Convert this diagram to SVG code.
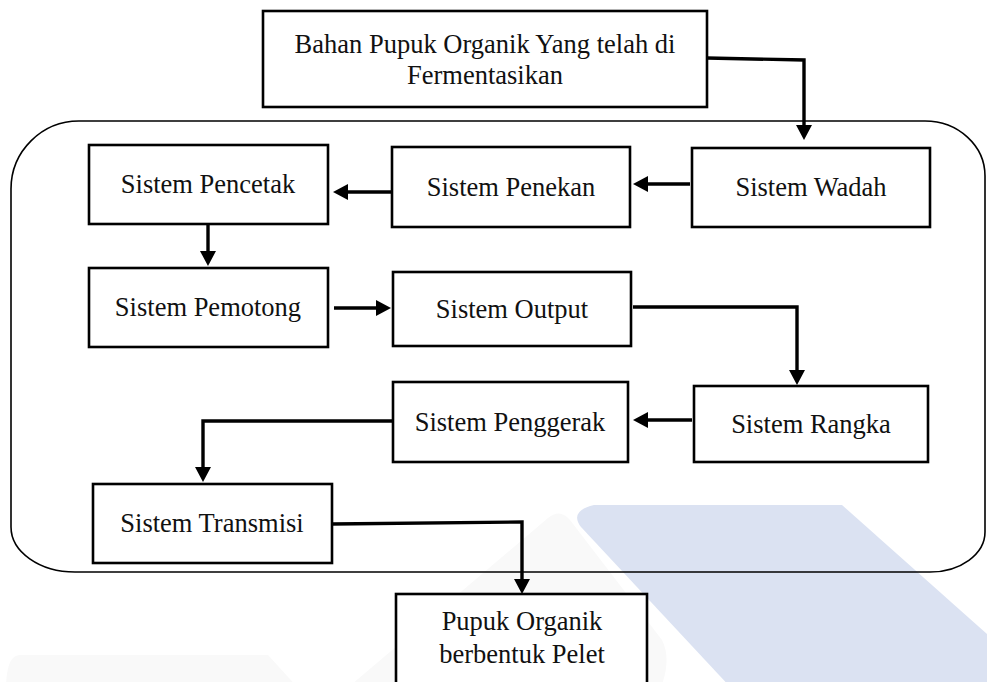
<svg xmlns="http://www.w3.org/2000/svg" width="987" height="682" viewBox="0 0 987 682">
<style>
.box{fill:#fff;stroke:#000;stroke-width:2.6}
.lbl{font-family:"Liberation Serif","Times New Roman",serif;font-size:26.5px;fill:#111;text-anchor:middle}
.con{fill:none;stroke:#000;stroke-width:3.4;marker-end:url(#ah)}
</style>
<defs>
<marker id="ah" viewBox="0 0 15 16" refX="1" refY="8" markerWidth="15" markerHeight="16" markerUnits="userSpaceOnUse" orient="auto">
<path d="M0,0 L15,8 L0,16 Z" fill="#000"/>
</marker>
</defs>
<rect width="987" height="682" fill="#fff"/>
<g id="watermark">
<path d="M20 655 L268 655 L300 690 L6 690 Q6 655 20 655 Z" fill="#f9f9f9"/>
<path d="M345 690 L548 518 Q560 508 570 520 L662 640 Q672 660 660 690 Z" fill="#f9f9f9"/>
<path d="M594 505 L842 505 L1050 690 L733 690 L581 527 Q569 511 594 505 Z" fill="#dbe2f2"/>
</g>
<path id="container" d="M80 121 L925 121 A60 55 0 0 1 985 176 L985 532 A55 40 0 0 1 930 572 L75 572 A64 45 0 0 1 11 527 L11 189 A68 68 0 0 1 80 121 Z" fill="none" stroke="#000" stroke-width="1.6"/>
<g id="connectors">
<path class="con" d="M707 58 L804 60 L804 126"/>
<path class="con" d="M690 184 L647 184"/>
<path class="con" d="M391 192 L347 192"/>
<path class="con" d="M208 224 L208 252"/>
<path class="con" d="M334 308 L377 308"/>
<path class="con" d="M633 307 L797 307 L797 371"/>
<path class="con" d="M692 420 L647 420"/>
<path class="con" d="M393 421 L203 421 L203 468"/>
<path class="con" d="M332 524 L522 522 L522 580"/>
</g>
<g id="bahan">
<rect class="box" x="263" y="11" width="444" height="96"/>
<text class="lbl" x="485" y="53">Bahan Pupuk Organik Yang telah di</text>
<text class="lbl" x="485" y="84">Fermentasikan</text>
</g>
<g id="wadah">
<rect class="box" x="692" y="148" width="238" height="79"/>
<text class="lbl" x="811" y="196">Sistem Wadah</text>
</g>
<g id="penekan">
<rect class="box" x="392" y="147" width="238" height="80"/>
<text class="lbl" x="511" y="196">Sistem Penekan</text>
</g>
<g id="pencetak">
<rect class="box" x="89" y="145" width="239" height="79"/>
<text class="lbl" x="208" y="193">Sistem Pencetak</text>
</g>
<g id="pemotong">
<rect class="box" x="89" y="268" width="239" height="79"/>
<text class="lbl" x="208" y="316">Sistem Pemotong</text>
</g>
<g id="output">
<rect class="box" x="393" y="272" width="238" height="74"/>
<text class="lbl" x="512" y="318">Sistem Output</text>
</g>
<g id="rangka">
<rect class="box" x="694" y="386" width="234" height="76"/>
<text class="lbl" x="811" y="433">Sistem Rangka</text>
</g>
<g id="penggerak">
<rect class="box" x="393" y="382" width="235" height="80"/>
<text class="lbl" x="510" y="431">Sistem Penggerak</text>
</g>
<g id="transmisi">
<rect class="box" x="93" y="484" width="239" height="79"/>
<text class="lbl" x="212" y="532">Sistem Transmisi</text>
</g>
<g id="pupuk">
<rect class="box" x="396" y="594" width="251" height="100"/>
<text class="lbl" x="522" y="630">Pupuk Organik</text>
<text class="lbl" x="522" y="663">berbentuk Pelet</text>
</g>
</svg>
